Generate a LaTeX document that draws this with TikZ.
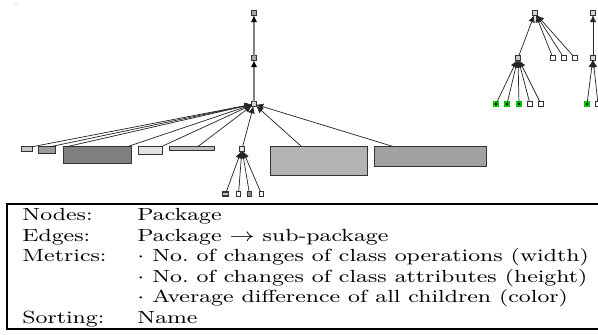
\documentclass[tikz,border=0pt]{standalone}
\usepackage{graphicx}
\usetikzlibrary{arrows.meta,calc}
\definecolor{gA}{HTML}{A8A8A8}
\definecolor{gB}{HTML}{D4D4D4}
\definecolor{gC}{HTML}{C6C6C6}
\definecolor{gD}{HTML}{9A9A9A}
\definecolor{gE}{HTML}{7F7F7F}
\definecolor{gF}{HTML}{E2E2E2}
\definecolor{gG}{HTML}{BCBCBC}
\definecolor{gH}{HTML}{B3B3B3}
\definecolor{gI}{HTML}{A1A1A1}
\definecolor{gJ}{HTML}{8C8C8C}
\definecolor{leafgreen}{HTML}{00C000}
% legend text is set a little wide
\newcommand\widetext[1]{\scalebox{1.32}[1]{#1}}
\begin{document}
\begin{tikzpicture}[x=0.4867pt,y=-0.4867pt,
  pk/.style={draw=black!80, line width=0.7pt, inner sep=0pt, outer sep=0pt},
  sq/.style={pk, minimum width=2.2pt, minimum height=2.2pt},
  bx/.style 2 args={pk, minimum width={#1*0.4867pt-0.7pt}, minimum height={#2*0.4867pt-0.7pt}},
  grn/.style={sq, draw=leafgreen, fill=black, line width=0.8pt},
  edge/.style={draw=black!85, line width=0.35pt, -{Latex[length=3.4pt,width=3.2pt]}},
  stem/.style={draw=black!50, line width=0.6pt, -{Latex[length=3.4pt,width=3.2pt,color=black]}},
  lbl/.style={anchor=base west, inner sep=0pt, font=\fontsize{8.54}{10}\selectfont}]
\useasboundingbox (0,0) rectangle (598,335);

% stray point near the corner
\fill[black!45] (16,5) circle (0.6);

% ---- main package tree ----
\node[sq, fill=gA] (A) at (254,13) {};
\node[sq, fill=gA] (B) at (254,58) {};
\node[sq, fill=gB] (H) at (254,104) {};

\node[bx={12}{6},  fill=gC] (L1) at (27,149) {};
\node[bx={18}{8},  fill=gD] (L2) at (47,150) {};
\node[bx={69}{18}, fill=gE] (L3) at (97.5,155) {};
\node[bx={25}{9},  fill=gF] (L4) at (150.5,150.5) {};
\node[bx={46}{5},  fill=gG] (L5) at (192,148.5) {};
\node[sq, fill=white!90!black] (S) at (242,149) {};
\node[bx={98}{30}, fill=gH] (P1) at (319,161) {};
\node[bx={113}{21},fill=gI] (P2) at (430.5,156.5) {};

\node[bx={7.5}{5.5}, fill=gC] (S1) at (225.5,194) {};
\node[sq, fill=white] (S2) at (238.5,194) {};
\node[sq, fill=gJ]   (S3) at (249.5,194) {};
\node[sq, fill=white] (S4) at (261.5,194) {};

\draw[stem] (B) -- (A);
\draw[stem] (H) -- (B);

\draw[edge] (L1.north east) -- (H);
\draw[edge] ([xshift=-5*0.4867pt]L2.north east) -- (H);
\draw[edge] ([xshift=3*0.4867pt]L3.north west) -- (H);
\draw[edge] ([xshift=-4*0.4867pt]L3.north east) -- (H);
\draw[edge] ([xshift=-1*0.4867pt]L4.north east) -- (H);
\draw[edge] ([xshift=28*0.4867pt]L5.north west) -- (H);
\draw[edge] (S) -- (H);
\draw[edge] ([xshift=31*0.4867pt]P1.north west) -- (H);
\draw[edge] ([xshift=19*0.4867pt]P2.north west) -- (H);

\foreach \n in {S1,S2,S3,S4} \draw[edge] (\n) -- (S);

% ---- second tree ----
\node[sq, fill=gB] (R) at (535,13) {};
\node[sq, fill=gC] (M) at (518,58) {};
\node[sq, fill=white] (R2) at (553,58) {};
\node[sq, fill=white] (R3) at (564,58) {};
\node[sq, fill=white] (R4) at (575,58) {};
\node[grn] (G1) at (496,104) {};
\node[grn] (G2) at (507,104) {};
\node[grn] (G3) at (519,104) {};
\node[sq, fill=white] (W1) at (530,104) {};
\node[sq, fill=white] (W2) at (541,104) {};

\foreach \n in {M,R2,R3,R4} \draw[edge] (\n) -- (R);
\foreach \n in {G1,G2,G3,W1,W2} \draw[edge] (\n) -- (M);

% ---- third tree (at the border) ----
\node[sq, fill=gB] (T1) at (593,13) {};
\node[sq, fill=gB] (T2) at (593,58) {};
\node[grn] (TL1) at (587,104) {};
\node[sq, fill=white] (TL2) at (598,104) {};
\draw[edge] (T2) -- (T1);
\foreach \n in {TL1,TL2} \draw[edge] (\n) -- (T2);

% ---- legend table ----
\draw[line width=0.5pt] (600,204) -- (7,204) -- (7,329) -- (600,329);
\node[lbl] (k1) at (22,220.5) {\widetext{Nodes:}};
\node[lbl] (k2) at (22,241.1) {\widetext{Edges:}};
\node[lbl] (k3) at (22,261.7) {\widetext{Metrics:}};
\node[lbl] (k4) at (22,323.5) {\widetext{Sorting:}};
\node[lbl] (v1) at (137,220.5) {\widetext{Package}};
\node[lbl] (v2) at (137,241.1) {\widetext{Package $\rightarrow$ sub-package}};
\node[lbl] (v3) at (137,261.7) {\widetext{$\cdot$ No.\ of changes of class operations (width)}};
\node[lbl] (v4) at (137,282.3) {\widetext{$\cdot$ No.\ of changes of class attributes (height)}};
\node[lbl] (v5) at (137,302.9) {\widetext{$\cdot$ Average difference of all children (color)}};
\node[lbl] (v6) at (137,323.5) {\widetext{Name}};
\end{tikzpicture}
\end{document}
